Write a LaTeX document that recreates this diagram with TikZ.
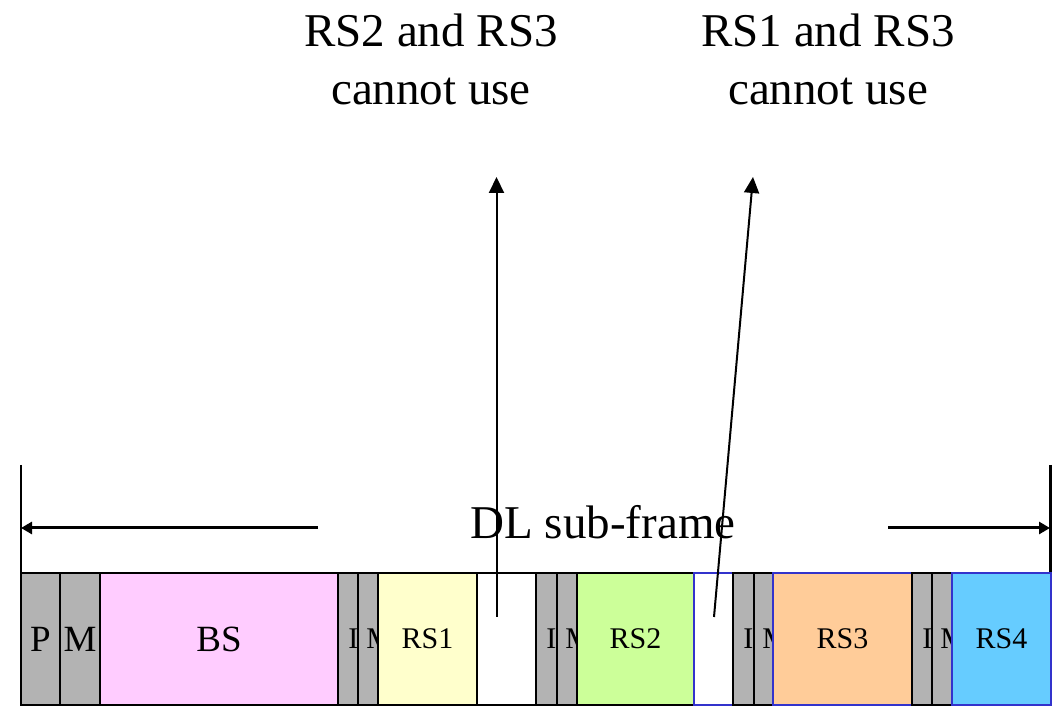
\documentclass[tikz,border=0pt]{standalone}
\usepackage{fontspec}
\setmainfont{Liberation Serif}
\usetikzlibrary{arrows.meta,positioning}

\definecolor{slotgray}{HTML}{B3B3B3}
\definecolor{bspink}{HTML}{FFCCFF}
\definecolor{rsyellow}{HTML}{FFFFCC}
\definecolor{rsgreen}{HTML}{CCFF99}
\definecolor{rsorange}{HTML}{FFCC99}
\definecolor{rsblue}{HTML}{66CCFF}
\definecolor{edgeblue}{HTML}{3333CC}

\begin{document}
\begin{tikzpicture}[x=1pt,y=1pt,
  slot/.style={draw,line width=1.5pt,minimum height=132pt,inner sep=0pt,font=\fontsize{30}{36}\selectfont},
  bigslot/.style={slot,font=\fontsize{37}{44}\selectfont},
  narrow/.style={slot,fill=slotgray,minimum width=#1},
  lab/.style={inner sep=0pt,font=\fontsize{30}{36}\selectfont},
  note/.style={align=center,inner sep=0pt,font=\fontsize{47}{58}\selectfont},
  edge/.style={-{Triangle[length=16pt,width=15pt]},line width=2pt},
  span/.style={-{Triangle[length=11pt,width=12pt]},line width=3pt}]
\useasboundingbox (0,0) rectangle (1057,706);

% DL sub-frame slots, left to right
\node[bigslot,fill=slotgray,minimum width=39pt] (p) at (40.5,67) {P};
\node[bigslot,fill=slotgray,minimum width=40pt] (m) at (80,67) {M};
\node[bigslot,fill=bspink,minimum width=238pt] (bs) at (219,67) {BS};
\node[narrow=20pt] (i1) at (348,67) {};
\node[lab,anchor=west] at ([xshift=11pt]i1.west) {I};
\node[narrow=20pt] (m1) at (368,67) {};
\node[lab,anchor=west] at ([xshift=9pt]m1.west) {M};
\node[slot,fill=rsyellow,minimum width=99pt] (rs1) at (427.5,67) {RS1};
\node[slot,fill=white,minimum width=59pt] (gap1) at (506.5,67) {};
\node[narrow=21pt] (i2) at (546.5,67) {};
\node[lab,anchor=west] at ([xshift=11pt]i2.west) {I};
\node[narrow=20pt] (m2) at (567,67) {};
\node[lab,anchor=west] at ([xshift=9pt]m2.west) {M};
\node[slot,fill=rsgreen,minimum width=117pt] (rs2) at (635.5,67) {RS2};
\node[slot,draw=edgeblue,fill=white,minimum width=39pt] (gap2) at (713.5,67) {};
\node[narrow=21pt] (i3) at (743.5,67) {};
\node[lab,anchor=west] at ([xshift=11pt]i3.west) {I};
\node[narrow=19pt] (m3) at (763.5,67) {};
\node[lab,anchor=west] at ([xshift=9pt]m3.west) {M};
\node[slot,draw=edgeblue,fill=rsorange,minimum width=139pt] (rs3) at (842.5,67) {RS3};
\node[narrow=20pt] (i4) at (922,67) {};
\node[lab,anchor=west] at ([xshift=11pt]i4.west) {I};
\node[narrow=20pt] (m4) at (942,67) {};
\node[lab,anchor=west] at ([xshift=9pt]m4.west) {M};
\node[slot,draw=edgeblue,fill=rsblue,minimum width=99pt] (rs4) at (1001.5,67) {RS4};

% frame length marker
\coordinate (lend) at (21,241);
\coordinate (rend) at (1050,241);
\draw[line width=2pt] (lend) -- (lend |- p.north);
\draw[line width=3pt] (rend) -- (rend |- rs4.north);
\node[note] (dl) at (603,184) {DL sub-frame};
\coordinate (ltail) at (318,178);
\coordinate (rtail) at (888,178);
\draw[span] (ltail) -- (lend |- ltail);
\draw[span] (rtail) -- (rend |- rtail);

% forbidden gaps
\node[note] (n1) at (431,647) {RS2 and RS3\\cannot use};
\node[note] (n2) at (828,647) {RS1 and RS3\\cannot use};
\coordinate (g1) at (496.5,89);
\coordinate (t1) at (496.5,529);
\coordinate (g2) at (714,89);
\coordinate (t2) at (753,529);
\draw[edge] (g1) -- (t1);
\draw[edge] (g2) -- (t2);
\end{tikzpicture}
\end{document}
